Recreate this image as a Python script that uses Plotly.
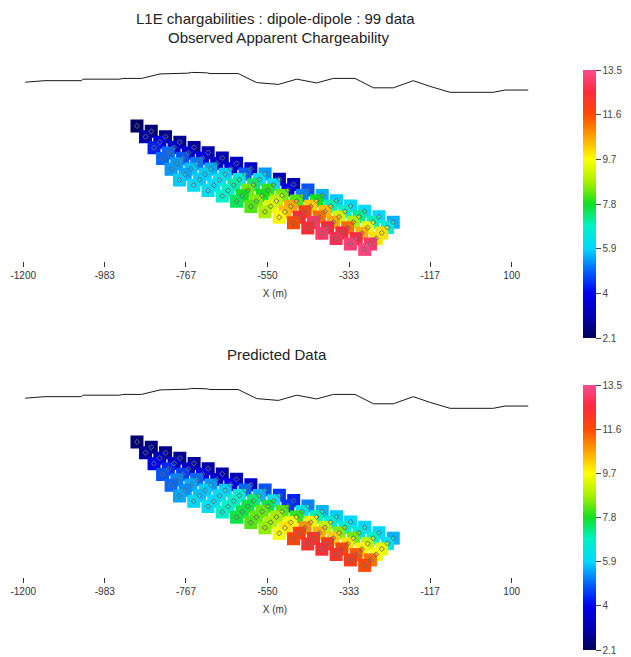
import plotly.graph_objects as go

# ---------------- data ----------------
TICK_VALS = [-1200, -983, -767, -550, -333, -117, 100]
TICK_TEXT = ["-1200", "-983", "-767", "-550", "-333", "-117", "100"]
CBAR_VALS = [2.1, 4, 5.9, 7.8, 9.7, 11.6, 13.5]
CBAR_TEXT = ["2.1", "4", "5.9", "7.8", "9.7", "11.6", "13.5"]

# topography profile (x in m, elevation in m)
topo_x = [-1195, -1142, -1045, -1041, -943, -935, -885, -836, -762, -752, -712, -703,
          -628, -579, -521, -472, -419, -375, -317, -268, -215, -162, -118, -64, 51, 82, 144]
topo_z = [1176, 1180, 1180, 1184, 1184, 1186, 1186, 1198, 1200, 1202, 1201, 1199,
          1199, 1175, 1170, 1184, 1174, 1186, 1186, 1161, 1161, 1180, 1165, 1149, 1149, 1155, 1155]

# dipole centres along the survey line (20 dipoles -> n = 1..6 gives 99 data)
dipole_x = [-920, -882, -844, -806, -768, -730, -693, -655, -617, -579,
            -541, -503, -465, -427, -389, -351, -314, -276, -238, -200]
dipole_z = [1088, 1074, 1060, 1045, 1031, 1017, 1003, 989, 974, 960,
            946, 932, 918, 903, 889, 875, 861, 847, 832, 818]
n_levels = [1, 2, 3, 4, 5, 6]
pseudo_dx = 3.7     # plotting offset per n-level (m)
pseudo_dz = 21.6    # pseudo-depth per n-level (m)

# observed apparent chargeability, one list per n-level
obs_n1 = [2.2, 2.4, 2.6, 2.7, 2.8, 3.0, 3.1, 3.3, 3.4, 5.4, 3.0, 3.1, 4.8, 5.6, 5.8, 5.9, 6.0, 5.9, 5.6]
obs_n2 = [2.9, 3.8, 3.4, 3.5, 3.8, 3.3, 3.6, 4.9, 6.0, 6.1, 4.0, 5.2, 7.8, 7.0, 6.8, 7.2, 7.0, 6.6]
obs_n3 = [4.3, 5.0, 4.8, 5.1, 5.5, 5.8, 6.4, 7.4, 8.0, 8.4, 8.2, 10.2, 10.4, 9.2, 8.8, 9.5, 10.0]
obs_n4 = [5.0, 5.4, 5.7, 5.8, 6.2, 7.1, 8.4, 7.8, 9.0, 10.6, 11.8, 11.2, 10.6, 11.2, 10.5, 10.0]
obs_n5 = [5.4, 5.5, 5.8, 6.0, 6.8, 7.8, 8.5, 9.3, 10.4, 12.4, 13.0, 12.6, 12.5, 12.6, 13.0]
obs_n6 = [5.8, 6.0, 6.1, 6.8, 7.5, 8.2, 8.8, 9.8, 11.6, 12.4, 13.0, 12.8, 13.2, 13.3]

# predicted data, one list per n-level
pred_n1 = [2.3, 2.4, 2.6, 2.7, 2.8, 2.9, 3.0, 3.2, 3.5, 4.8, 4.5, 4.3, 5.2, 5.6, 5.8, 5.9, 5.9, 5.9, 5.6]
pred_n2 = [2.8, 3.2, 3.3, 3.4, 3.8, 3.5, 4.0, 5.0, 5.6, 6.2, 4.5, 6.3, 7.0, 6.6, 6.6, 6.6, 6.8, 6.2]
pred_n3 = [4.0, 4.4, 4.6, 5.0, 5.4, 5.8, 6.5, 7.3, 7.6, 8.2, 8.0, 9.5, 9.0, 8.5, 8.4, 9.0, 9.4]
pred_n4 = [4.8, 5.2, 5.5, 5.8, 6.0, 6.8, 7.6, 8.3, 8.7, 9.6, 10.8, 10.5, 10.2, 10.0, 9.8, 9.6]
pred_n5 = [5.0, 5.3, 5.7, 6.0, 6.8, 7.6, 8.3, 8.8, 10.0, 11.8, 12.2, 12.0, 11.8, 11.4, 11.2]
pred_n6 = [5.5, 5.9, 6.1, 6.8, 7.6, 8.2, 8.6, 9.6, 11.8, 12.3, 12.4, 12.2, 12.0, 11.6]

observed = [obs_n1, obs_n2, obs_n3, obs_n4, obs_n5, obs_n6]
predicted = [pred_n1, pred_n2, pred_n3, pred_n4, pred_n5, pred_n6]

# ---------------- styling ----------------
COLORSCALE = [
    [0.0, "#00005c"], [0.08, "#0000b0"], [0.167, "#0000f0"], [0.25, "#0062ff"],
    [0.333, "#00d8ff"], [0.42, "#00f2c4"], [0.5, "#12e020"], [0.58, "#a4f000"],
    [0.667, "#ffff00"], [0.75, "#ffa200"], [0.833, "#ff4a00"], [0.92, "#ff2840"],
    [1.0, "#ff4c90"],
]
FONT = "Arial, Liberation Sans, sans-serif"
# the page body has an 8px margin: the figure is sized to fit inside 631x657
OFF = 8
W, H = 631 - OFF, 657 - OFF


def px_x(px):
    return (px - OFF) / W


def px_y(py):
    return 1 - (py - OFF) / H


def pseudo_positions(values):
    xs, zs, vs = [], [], []
    for n, row in zip(n_levels, values):
        for i, v in enumerate(row):
            xs.append((dipole_x[i] + dipole_x[i + n]) / 2 + n * pseudo_dx)
            zs.append((dipole_z[i] + dipole_z[i + n]) / 2 - n * pseudo_dz)
            vs.append(v)
    return xs, zs, vs


fig = go.Figure()

panels = [
    (observed, "x", "y", "coloraxis"),
    (predicted, "x2", "y2", "coloraxis2"),
]
for values, xa, ya, cax in panels:
    fig.add_trace(go.Scatter(
        x=topo_x, y=topo_z, mode="lines", xaxis=xa, yaxis=ya,
        line=dict(color="#1a1a1a", width=1), showlegend=False, hoverinfo="skip"))
    xs, zs, vs = pseudo_positions(values)
    fig.add_trace(go.Scatter(
        x=xs, y=zs, mode="markers", xaxis=xa, yaxis=ya, showlegend=False,
        marker=dict(symbol="square", size=13, color=vs, coloraxis=cax,
                    line=dict(width=0))))
    fig.add_trace(go.Scatter(
        x=xs, y=zs, mode="markers", xaxis=xa, yaxis=ya, showlegend=False,
        hoverinfo="skip",
        marker=dict(symbol="diamond-open", size=4, color="#6a6a6a",
                    line=dict(width=1))))

x_dom = [px_x(19.5), px_x(530.5)]
x_range = [-1210, 150]
y_range = [700, 1229.7]


def xaxis_cfg(anchor):
    return dict(
        domain=x_dom, range=x_range, anchor=anchor,
        tickmode="array", tickvals=TICK_VALS, ticktext=TICK_TEXT,
        ticks="outside", ticklen=5, tickwidth=1, tickcolor="#333",
        tickfont=dict(family=FONT, size=10, color="#333"),
        showline=False, showgrid=False, zeroline=False,
        title=dict(text="X (m)", font=dict(family=FONT, size=10, color="#333"),
                   standoff=9),
        fixedrange=True,
    )


def yaxis_cfg(anchor, top_px, bottom_px):
    return dict(domain=[px_y(bottom_px), px_y(top_px)], range=y_range, anchor=anchor,
                visible=False, showgrid=False, zeroline=False, fixedrange=True)


def cbar(ycenter_px, length):
    return dict(
        cmin=2.1, cmax=13.5, colorscale=COLORSCALE,
        colorbar=dict(
            x=px_x(583.3), xanchor="left", xpad=0,
            y=px_y(ycenter_px), yanchor="middle", ypad=0,
            len=length, lenmode="pixels", thickness=13, thicknessmode="pixels",
            outlinewidth=0, ticks="outside", ticklen=5, tickcolor="#444",
            tickmode="array", tickvals=CBAR_VALS, ticktext=CBAR_TEXT,
            tickfont=dict(family=FONT, size=10, color="#444"),
        ),
    )


def title_ann(text, cx, cy, size, anchor="middle"):
    return dict(text=text, x=px_x(cx), y=px_y(cy), xref="paper", yref="paper",
                showarrow=False, xanchor="center", yanchor=anchor,
                font=dict(family=FONT, size=size, color="#222"))


fig.update_layout(
    width=W, height=H,
    margin=dict(l=0, r=0, t=0, b=0, autoexpand=False),
    paper_bgcolor="white", plot_bgcolor="white",
    xaxis=xaxis_cfg("y"),
    yaxis=yaxis_cfg("x", 62, 261),
    xaxis2=xaxis_cfg("y2"),
    yaxis2=yaxis_cfg("x2", 378, 577),
    coloraxis=cbar(204.2, 268),
    coloraxis2=cbar(517.5, 265),
    font=dict(family=FONT, color="#222"),
    annotations=[
        title_ann("L1E chargabilities : dipole-dipole : 99 data", 275, OFF, 15, "top"),
        title_ann("Observed Apparent Chargeability", 278, 38, 15),
        title_ann("Predicted Data", 277, 354, 15),
    ],
)

fig.write_html("out.html")
